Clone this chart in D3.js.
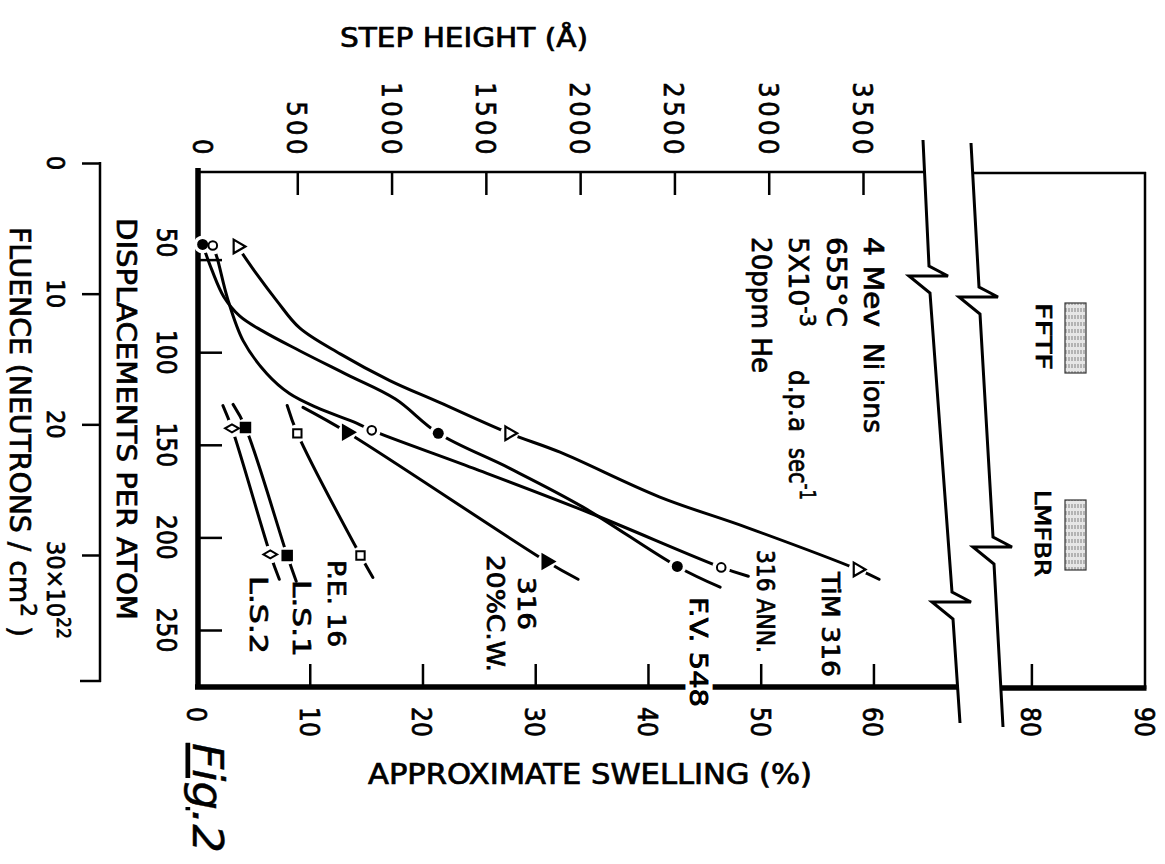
<!DOCTYPE html>
<html><head><meta charset="utf-8">
<script src="https://cdn.jsdelivr.net/npm/d3@7"></script>
<style>
body{margin:0;background:#fff}
svg{display:block}
text{font-family:"DejaVu Sans Condensed","DejaVu Sans",sans-serif;font-weight:normal;font-stretch:condensed;fill:#000;stroke:#000;stroke-width:0.7px}
</style></head>
<body><svg id="c" width="1165" height="864"></svg>
<script>
// ---------------- data ----------------
const swellingTicks = [10, 20, 30, 40, 50, 60, 80];
const swellingLabels = [0, 10, 20, 30, 40, 50, 60, 80, 90];
const stepTicks = [500, 1000, 1500, 2000, 2500, 3000, 3500];
const stepLabels = [0, 500, 1000, 1500, 2000, 2500, 3000, 3500];
const dpaTicks = [50, 100, 150, 200, 250];
const fluenceTicks = [0, 10, 20, 30];

// markers: [swelling %, displacements per atom]
const tim316Markers = [[3.6, 42.9], [27.7, 143.8], [58.6, 217.3]];
const fv548Markers  = [[0.5, 41.8], [21.4, 143.8], [42.6, 215.7]];
const ann316Markers = [[1.4, 42.4], [15.5, 142.2], [46.5, 216.2]];
const cw316Markers  = [[13.3, 143.2], [31.0, 213.0]];
const pe16Markers   = [[8.9, 143.8], [14.5, 209.8]];
const ls1Markers    = [[4.3, 140.6], [8.0, 209.8]];
const ls2Markers    = [[3.1, 141.1], [6.5, 209.2]];

// hand-drawn curves: [swelling %, dpa]
const tim316Curve = [[3.6,42.9],[5.3,57.9],[7.1,72.4],[9.1,86.9],[12.7,100.9],[17.1,115.3],[21.5,127.1],[27.7,143.8],[32.2,154.0],[41.0,178.1],[48.8,194.7],[58.6,217.3],[60.5,222.6]];
const fv548Curve  = [[0.5,41.8],[1.3,55.3],[2.4,70.3],[3.8,80.5],[5.8,88.5],[9.1,99.2],[13.3,112.1],[17.6,125.3],[21.4,143.8],[27.7,162.6],[34.2,183.5],[42.6,215.7],[46.4,226.9]];
const ann316Curve = [[1.4,42.4],[1.8,49.4],[2.7,70.8],[4.1,93.9],[6.2,111.6],[8.2,122.3],[10.6,129.8],[14.2,138.4],[15.5,142.2],[24.5,162.6],[34.8,186.7],[46.5,216.2],[48.9,221.0]];
const cw316Curve  = [[9.4,129.8],[13.3,143.2],[31.0,213.0],[33.8,222.6]];
const pe16Curve   = [[8.0,128.8],[8.9,143.8],[14.5,209.8],[15.6,221.6]];
const ls1Curve    = [[3.2,128.2],[4.3,140.6],[8.0,209.8],[8.8,223.7]];
const ls2Curve    = [[2.3,128.8],[3.1,141.1],[6.5,209.2],[7.3,222.6]];

const series = [
  {name:"TiM 316",  curve:tim316Curve, markers:tim316Markers, sym:"triOpen"},
  {name:"F.V. 548", curve:fv548Curve,  markers:fv548Markers,  sym:"circFill"},
  {name:"316 ANN.", curve:ann316Curve, markers:ann316Markers, sym:"circOpen"},
  {name:"316 20%C.W.", curve:cw316Curve, markers:cw316Markers, sym:"triFill"},
  {name:"P.E. 16",  curve:pe16Curve,   markers:pe16Markers,   sym:"sqOpen"},
  {name:"L.S.1",    curve:ls1Curve,    markers:ls1Markers,    sym:"sqFill"},
  {name:"L.S.2",    curve:ls2Curve,    markers:ls2Markers,    sym:"diaOpen"}
];

// ---------------- layout ----------------
const svg = d3.select("#c");
const xS = d3.scaleLinear().domain([0, 67.5, 77.5, 90]).range([197, 958, 1003, 1145]);
const yS = d3.scaleLinear().domain([0, 250]).range([167, 630]);
const stepS = d3.scaleLinear().domain([0, 3500]).range([203, 863]);
const fluS = d3.scaleLinear().domain([0, 30]).range([163, 555]);
const F = {left:198, right:1145, top:172, bottom:687};

const defs = svg.append("defs");
const pat = defs.append("pattern").attr("id","hatch").attr("patternUnits","userSpaceOnUse").attr("width",3).attr("height",7);
pat.append("rect").attr("width",3).attr("height",7).attr("fill","#e6e6e6");
pat.append("line").attr("x1",1).attr("y1",0).attr("x2",1).attr("y2",4).attr("stroke","#808080").attr("stroke-width",1);

function line(g, x1,y1,x2,y2,w){ return g.append("line").attr("x1",x1).attr("y1",y1).attr("x2",x2).attr("y2",y2).attr("stroke","#000").attr("stroke-width",w).attr("stroke-linecap","butt"); }
function vtext(x, y, str, size, anchor, len){
  const t = svg.append("text").attr("transform",`translate(${x},${y}) rotate(90)`)
    .attr("font-size",size).attr("text-anchor",anchor||"start");
  if (str !== null) t.text(str);
  if (len) t.attr("textLength",len).attr("lengthAdjust","spacingAndGlyphs");
  return t;
}

const axes = svg.append("g");
// break lines
function zig(p){ return [p,[p[0]+19,p[1]+10],[p[0]-20,p[1]+10],[p[0]+1,p[1]+27]]; }
const xb1 = xS(67.5)+2, xb2 = xS(77.5);
const brk1 = [[xb1-37,140], ...zig([xb1-31,266]), ...zig([xb1-8,592]), [xb1,723]];
const brk2 = [[xb2-32,143], ...zig([xb2-24,287]), ...zig([xb2-10,537]), [xb2,727]];
function xAtY(pts, y){
  for (let i=0;i<pts.length-1;i++){ const a=pts[i], b=pts[i+1];
    if ((a[1]-y)*(b[1]-y) <= 0 && a[1]!==b[1] && Math.abs(b[0]-a[0])<20) return a[0]+(b[0]-a[0])*(y-a[1])/(b[1]-a[1]); }
  return pts[0][0];
}
// frame
line(axes, F.left, F.top, xAtY(brk1,F.top), F.top, 2.5);
line(axes, xAtY(brk2,F.top), F.top+1, F.right+1, F.top+1, 2.5);
line(axes, F.right, F.top, F.right, F.bottom+2, 2.5);
line(axes, F.left-3, F.bottom, xAtY(brk1,F.bottom), F.bottom, 5.5);
line(axes, xAtY(brk2,F.bottom), F.bottom+1, F.right+1.5, F.bottom+1, 5.5);
line(axes, F.left, F.top-4, F.left, F.bottom+2, 5.5);
const lg = d3.line();
axes.append("path").attr("d", lg(brk1)).attr("fill","none").attr("stroke","#000").attr("stroke-width",3).attr("stroke-linejoin","miter");
axes.append("path").attr("d", lg(brk2)).attr("fill","none").attr("stroke","#000").attr("stroke-width",3).attr("stroke-linejoin","miter");

// ticks via d3 axes
const tickStyle = g => { g.select(".domain").remove(); g.selectAll("line").attr("stroke","#000").attr("stroke-width",2.5); g.selectAll("text").remove(); };
axes.append("g").attr("transform",`translate(0,${F.top})`)
  .call(d3.axisBottom(stepS).tickValues(stepTicks).tickSize(23)).call(tickStyle);
axes.append("g").attr("transform",`translate(0,${F.bottom})`)
  .call(d3.axisTop(xS).tickValues(swellingTicks).tickSize(23)).call(tickStyle);
axes.append("g").attr("transform",`translate(${F.left},0)`)
  .call(d3.axisRight(yS).tickValues(dpaTicks).tickSize(24)).call(tickStyle);
// fluence axis
const fg = axes.append("g").attr("transform","translate(100,0)");
fg.call(d3.axisLeft(fluS).tickValues(fluenceTicks).tickSize(18)).call(tickStyle);
line(fg, 0, fluS(0)-1, 0, F.bottom-5, 2.5);
line(fg, -20, F.bottom-6, 1, F.bottom-6, 2.5);

// curves
const curveGen = d3.line().x(d=>xS(d[0])).y(d=>yS(d[1])).curve(d3.curveCatmullRom.alpha(0.5));
const plot = svg.append("g");
series.forEach(s => plot.append("path").attr("d", curveGen(s.curve)).attr("fill","none")
  .attr("stroke","#000").attr("stroke-width",3).attr("stroke-linecap","round"));
// white gaps round markers
series.forEach(s => s.markers.forEach(m => plot.append("circle")
  .attr("cx",xS(m[0])).attr("cy",yS(m[1])).attr("r",9).attr("fill","#fff")));
// markers
series.forEach(s => s.markers.forEach(m => {
  const cx=xS(m[0]), cy=yS(m[1]);
  const g = plot.append("g").attr("transform",`translate(${cx},${cy})`);
  if (s.sym==="circFill") g.append("circle").attr("r",5.5).attr("fill","#000");
  else if (s.sym==="circOpen") g.append("circle").attr("r",4.3).attr("fill","#fff").attr("stroke","#000").attr("stroke-width",2);
  else if (s.sym==="triOpen" || s.sym==="triFill") g.append("path").attr("transform","rotate(90)")
      .attr("d", d3.symbol(d3.symbolTriangle, 80)()).attr("fill", s.sym==="triFill"?"#000":"#fff").attr("stroke","#000").attr("stroke-width",2.2);
  else if (s.sym==="sqOpen" || s.sym==="sqFill") g.append("path")
      .attr("d", d3.symbol(d3.symbolSquare, s.sym==="sqFill"?90:70)()).attr("fill", s.sym==="sqFill"?"#000":"#fff").attr("stroke","#000").attr("stroke-width",2);
  else g.append("path").attr("transform","rotate(90)").attr("d", d3.symbol(d3.symbolDiamond, 55)())
      .attr("fill","#fff").attr("stroke","#000").attr("stroke-width",2);
}));

// ---------------- text ----------------
svg.append("text").attr("x",340).attr("y",47).attr("font-size",27).attr("textLength",248).attr("lengthAdjust","spacingAndGlyphs").text("STEP HEIGHT (Å)");
svg.append("text").attr("x",368).attr("y",784).attr("font-size",28).attr("textLength",444).attr("lengthAdjust","spacingAndGlyphs").text("APPROXIMATE SWELLING (%)");
vtext(117, 218, "DISPLACEMENTS PER ATOM", 27, "start", 402);
const fl = vtext(10, 227, null, 29, "start", 410);
fl.append("tspan").text("FLUENCE (NEUTRONS / cm");
fl.append("tspan").attr("font-size",22).attr("dy",-11).text("2");
fl.append("tspan").attr("dy",11).text(" )");

// tick labels
stepLabels.forEach(v => vtext(stepS(v)-10, 158, String(v), 27, "end").attr("letter-spacing",3.5));
swellingLabels.forEach(v => vtext(xS(v)-10, 707, String(v), 26, "start"));
dpaTicks.forEach((v,i) => vtext(157, yS(v) + (i===0?-17:0), String(v), 26, "middle"));
fluenceTicks.forEach((v,i) => {
  if (i < fluenceTicks.length-1) vtext(47, fluS(v), String(v), 25, "middle");
  else { const t = vtext(47, fluS(v)-14, null, 25, "start");
    t.append("tspan").text(v + "×10"); t.append("tspan").attr("font-size",19).attr("dy",-10).text("22"); }
});

// series labels
vtext(250, 576, "L.S.2", 24, "start", 78);
vtext(293, 580, "L.S.1", 24, "start", 77);
vtext(328, 560, "P.E. 16", 24, "start", 87);
vtext(518, 577, "316", 24, "start", 53);
vtext(487, 555, "20%C.W.", 24, "start", 117);
vtext(690, 597, "F.V. 548", 24, "start", 110).style("stroke","#fff").style("stroke-width","9px").attr("paint-order","stroke");
vtext(690, 597, "F.V. 548", 24, "start", 110);
vtext(757, 550, "316 ANN.", 24, "start", 103);
vtext(822, 572, "TiM 316", 24, "start", 105);

// conditions note
vtext(864, 237, "4 Mev", 27, "start", 90);
vtext(864, 343, "Ni ions", 27, "start", 90);
vtext(827, 237, "655°C", 27, "start", 90);
const n3 = vtext(789, 237, null, 27, "start", 90);
n3.append("tspan").text("5X10"); n3.append("tspan").attr("font-size",21).attr("dy",-11).text("-3");
vtext(789, 370, "d.p.a", 27, "start", 62);
const n4 = vtext(789, 448, null, 27, "start", 52);
n4.append("tspan").text("sec"); n4.append("tspan").attr("font-size",21).attr("dy",-11).text("-1");
vtext(752, 237, "20ppm He", 27, "start", 136);

// reactor ranges
vtext(1036, 303, "FFTF", 22, "start", 67);
vtext(1035, 490, "LMFBR", 22, "start", 87);
svg.append("rect").attr("x",1065).attr("y",303).attr("width",21).attr("height",70).attr("fill","url(#hatch)").attr("stroke","#333").attr("stroke-width",1.2);
svg.append("rect").attr("x",1065).attr("y",500).attr("width",21).attr("height",70).attr("fill","url(#hatch)").attr("stroke","#333").attr("stroke-width",1.2);

// figure number
const fig = vtext(193, 743, null, 42, "start", 110).attr("font-style","italic").style("stroke-width","0.4px");
fig.append("tspan").attr("text-decoration","underline").text("Fig");
fig.append("tspan").text(".2");
</script></body></html>
